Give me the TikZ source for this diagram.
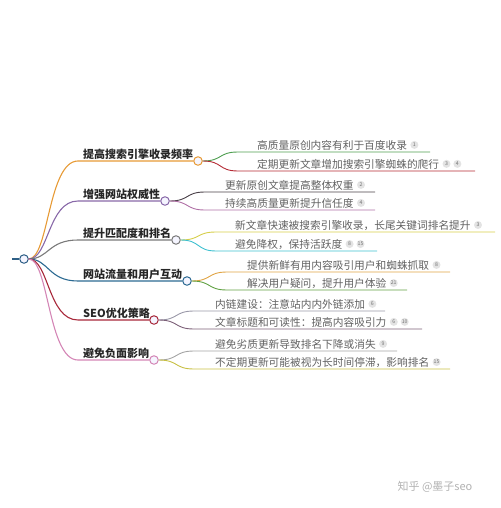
\documentclass[tikz,border=0pt]{standalone}
\usepackage{fontspec}
\setmainfont{Noto Sans CJK SC}
\usetikzlibrary{positioning}

\definecolor{cRoot}{HTML}{2E5F86}
\definecolor{cOrange}{HTML}{E79A35}
\definecolor{cPurple}{HTML}{8868A8}
\definecolor{cGrey}{HTML}{7A7A7A}
\definecolor{cBlue}{HTML}{2C6A92}
\definecolor{cRed}{HTML}{A8283A}
\definecolor{cPink}{HTML}{D486B6}
\definecolor{lGreen}{HTML}{4E9E50}
\definecolor{lRed}{HTML}{B42A34}
\definecolor{lDark}{HTML}{4A4048}
\definecolor{lMauve}{HTML}{B070A6}
\definecolor{lYellow}{HTML}{D6CE4A}
\definecolor{lCyan}{HTML}{3EC0D0}
\definecolor{lOrange}{HTML}{E0A444}
\definecolor{lLeaf}{HTML}{62A244}
\definecolor{lSlate}{HTML}{9A98A8}
\definecolor{lPlum}{HTML}{7C6078}
\definecolor{lAsh}{HTML}{A4A4A4}
\definecolor{lOlive}{HTML}{C8C044}

\begin{document}
\begin{tikzpicture}[x=1pt, y=-1pt,
        dot/.style={circle, draw, line width=1pt, fill=blue!4, minimum size=8.5pt, inner sep=0pt},
        branch/.style={anchor=base west, inner sep=0pt, text=black!85, font=\fontsize{11}{13}\selectfont\bfseries},
        leaf/.style={anchor=base west, inner sep=0pt, text=black!62, font=\fontsize{10.7}{12}\selectfont},
        badge/.style={circle, fill=gray!22, text=black!55, inner sep=0pt, minimum size=8pt, font=\fontsize{5.2}{5.5}\selectfont},
        link/.style={line width=1.1pt},
        twig/.style={line width=0.9pt}
    ]
        \useasboundingbox (0,0) rectangle (500,508);

        % Root
        \node (root) [dot, draw=cRoot] at (24,259) {};
        \coordinate (stub) at (12,259);
        \draw[line width=2pt, cRoot] (stub) -- (root);

        % Branch circles
        \node (d1) [dot, draw=cOrange] at (198,161) {};
        \node (d2) [dot, draw=cPurple] at (165,201) {};
        \node (d3) [dot, draw=cGrey] at (176,240) {};
        \node (d4) [dot, draw=cBlue] at (187,281) {};
        \node (d5) [dot, draw=cRed] at (154,320) {};
        \node (d6) [dot, draw=cPink] at (154,360) {};

        % Branch labels
        \node (t1) [branch] at (83,158) {提高搜索引擎收录频率};
        \node (t2) [branch] at (83,198) {增强网站权威性};
        \node (t3) [branch] at (83,237) {提升匹配度和排名};
        \node (t4) [branch] at (83,278) {网站流量和用户互动};
        \node (t5) [branch] at (83,317) {SEO优化策略};
        \node (t6) [branch] at (83,357) {避免负面影响};

        % Branch lines
        \coordinate (u1) at (78,161);
        \coordinate (u2) at (78,201);
        \coordinate (u3) at (78,240);
        \coordinate (u4) at (78,281);
        \coordinate (u5) at (78,320);
        \coordinate (u6) at (78,360);
        \draw[link, cOrange] (root.east) .. controls +(20,0) and +(-30,0) .. (u1) -- (d1);
        \draw[link, cPurple] (root.east) .. controls +(20,0) and +(-30,0) .. (u2) -- (d2);
        \draw[link, cGrey] (root.east) .. controls +(20,0) and +(-30,0) .. (u3) -- (d3);
        \draw[link, cBlue] (root.east) .. controls +(20,0) and +(-30,0) .. (u4) -- (d4);
        \draw[link, cRed] (root.east) .. controls +(20,0) and +(-30,0) .. (u5) -- (d5);
        \draw[link, cPink] (root.east) .. controls +(20,0) and +(-30,0) .. (u6) -- (d6);

        % Leaves of branch 1
        \node (c11) [leaf] at (257,149) {高质量原创内容有利于百度收录};
        \node (c11a) [badge, right=3pt of c11] {1};
        \node (c12) [leaf] at (257,168) {定期更新文章增加搜索引擎蜘蛛的爬行};
        \node (c12a) [badge, right=3pt of c12] {3};
        \node (c12b) [badge, right=2.5pt of c12a] {4};

        % Leaves of branch 2
        \node (c21) [leaf] at (225,189) {更新原创文章提高整体权重};
        \node (c21a) [badge, right=3pt of c21] {2};
        \node (c22) [leaf] at (225,207) {持续高质量更新提升信任度};
        \node (c22a) [badge, right=3pt of c22] {4};

        % Leaves of branch 3
        \node (c31) [leaf] at (235,229) {新文章快速被搜索引擎收录，长尾关键词排名提升};
        \node (c31a) [badge, right=3pt of c31] {3};
        \node (c32) [leaf] at (235,248) {避免降权，保持活跃度};
        \node (c32a) [badge, right=3pt of c32] {8};
        \node (c32b) [badge, right=2.5pt of c32a] {15};

        % Leaves of branch 4
        \node (c41) [leaf] at (247,269) {提供新鲜有用内容吸引用户和蜘蛛抓取};
        \node (c41a) [badge, right=3pt of c41] {8};
        \node (c42) [leaf] at (247,287) {解决用户疑问，提升用户体验};
        \node (c42a) [badge, right=3pt of c42] {21};

        % Leaves of branch 5
        \node (c51) [leaf] at (215,308) {内链建设：注意站内内外链添加};
        \node (c51a) [badge, right=3pt of c51] {6};
        \node (c52) [leaf] at (215,326) {文章标题和可读性：提高内容吸引力};
        \node (c52a) [badge, right=3pt of c52] {6};
        \node (c52b) [badge, right=2.5pt of c52a] {10};

        % Leaves of branch 6
        \node (c61) [leaf] at (215,348) {避免劣质更新导致排名下降或消失};
        \node (c61a) [badge, right=3pt of c61] {9};
        \node (c62) [leaf] at (215,366) {不定期更新可能被视为长时间停滞，影响排名};
        \node (c62a) [badge, right=3pt of c62] {15};

        % Leaf lines
        \coordinate (e11) at (430,152);
        \coordinate (e12) at (475,171);
        \coordinate (e21) at (375,192);
        \coordinate (e22) at (375,210);
        \coordinate (e31) at (495,232);
        \coordinate (e32) at (377,251);
        \coordinate (e41) at (450,272);
        \coordinate (e42) at (407,290);
        \coordinate (e51) at (385,311);
        \coordinate (e52) at (422,329);
        \coordinate (e61) at (397,351);
        \coordinate (e62) at (450,369);
        \draw[twig, lGreen] (d1.east) .. controls +(20,0) and +(-20,0) .. (238,152) -- (e11);
        \draw[twig, lRed] (d1.east) .. controls +(20,0) and +(-20,0) .. (238,171) -- (e12);
        \draw[twig, lDark] (d2.east) .. controls +(20,0) and +(-20,0) .. (205,192) -- (e21);
        \draw[twig, lMauve] (d2.east) .. controls +(20,0) and +(-20,0) .. (205,210) -- (e22);
        \draw[twig, lYellow] (d3.east) .. controls +(20,0) and +(-20,0) .. (216,232) -- (e31);
        \draw[twig, lCyan] (d3.east) .. controls +(20,0) and +(-20,0) .. (216,251) -- (e32);
        \draw[twig, lOrange] (d4.east) .. controls +(20,0) and +(-20,0) .. (227,272) -- (e41);
        \draw[twig, lLeaf] (d4.east) .. controls +(20,0) and +(-20,0) .. (227,290) -- (e42);
        \draw[twig, lSlate] (d5.east) .. controls +(20,0) and +(-20,0) .. (194,311) -- (e51);
        \draw[twig, lPlum] (d5.east) .. controls +(20,0) and +(-20,0) .. (194,329) -- (e52);
        \draw[twig, lAsh] (d6.east) .. controls +(20,0) and +(-20,0) .. (194,351) -- (e61);
        \draw[twig, lOlive] (d6.east) .. controls +(20,0) and +(-20,0) .. (194,369) -- (e62);

        % Watermark
        \node (mark) [text=gray!60, font=\fontsize{11}{13}\selectfont] at (435,487) {知乎 @墨子seo};
    \end{tikzpicture}
\end{document}
